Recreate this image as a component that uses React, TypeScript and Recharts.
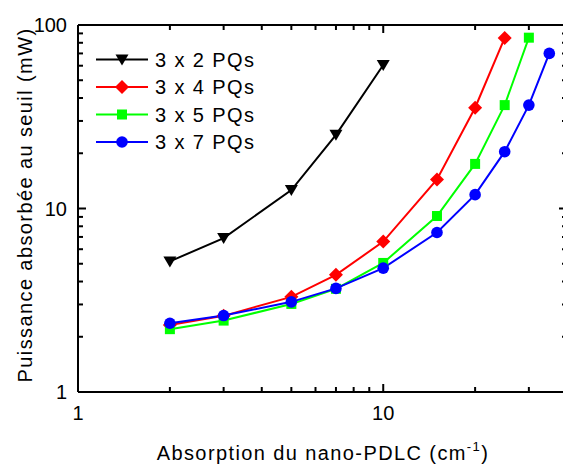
import React from 'react';
import { LineChart, Line, XAxis, YAxis } from 'recharts';

// ---------- data ----------
const seriesNames = ['3 x 2 PQs', '3 x 4 PQs', '3 x 5 PQs', '3 x 7 PQs'];
const seriesColors = ['#000000', '#ff0000', '#00ff00', '#0000ff'];
const seriesMarkers = ['triangleDown', 'diamond', 'square', 'circle'];

const x2PQs = [2, 3, 5, 7, 10];
const y2PQs = [5.15, 6.9, 12.6, 25.2, 60.5];

const x4PQs = [2, 3, 5, 7, 10, 15, 20, 25];
const y4PQs = [2.32, 2.6, 3.3, 4.35, 6.6, 14.4, 35.4, 85];

const x5PQs = [2, 3, 5, 7, 10, 15, 20, 25, 30];
const y5PQs = [2.2, 2.45, 3.02, 3.65, 5.05, 9.1, 17.5, 36.6, 85.3];

const x7PQs = [2, 3, 5, 7, 10, 15, 20, 25, 30, 35];
const y7PQs = [2.37, 2.61, 3.1, 3.67, 4.73, 7.4, 11.9, 20.4, 36.6, 70];

const xDomain = [1, 40];
const yDomain = [1, 100];
const xTicksAll = [1, 2, 3, 4, 5, 6, 7, 8, 9, 10, 20, 30];
const xTicksMajor = [1, 10];
const yTicksAll = [1, 2, 3, 4, 5, 6, 7, 8, 9, 10, 20, 30, 40, 50, 60, 70, 80, 90, 100];
const yTicksMajor = [1, 10, 100];

const xTitle = 'Absorption du nano-PDLC (cm';
const xTitleSup = '-1';
const yTitle = 'Puissance absorbée au seuil (mW)';

const FONT = '"Liberation Sans", Arial, sans-serif';

const toPoints = (xs: number[], ys: number[]) => xs.map((x, i) => ({ x, y: ys[i] }));
const seriesData = [
  toPoints(x2PQs, y2PQs),
  toPoints(x4PQs, y4PQs),
  toPoints(x5PQs, y5PQs),
  toPoints(x7PQs, y7PQs),
];

// ---------- markers ----------
function Marker({ kind, cx, cy, color }: { kind: string; cx: number; cy: number; color: string }) {
  if (cx == null || cy == null || isNaN(cx) || isNaN(cy)) return null;
  if (kind === 'triangleDown') {
    return (
      <polygon
        points={`${cx - 6.5},${cy - 5} ${cx + 6.5},${cy - 5} ${cx},${cy + 6}`}
        fill={color}
      />
    );
  }
  if (kind === 'diamond') {
    return (
      <polygon
        points={`${cx},${cy - 7} ${cx + 7},${cy} ${cx},${cy + 7} ${cx - 7},${cy}`}
        fill={color}
      />
    );
  }
  if (kind === 'square') {
    return <rect x={cx - 5} y={cy - 5} width={10} height={10} fill={color} />;
  }
  return <circle cx={cx} cy={cy} r={5.8} fill={color} />;
}

// ---------- ticks ----------
const MAJOR = 8;
const MINOR = 5;

const BottomTick = (props: any) => {
  const { x, y, payload } = props;
  const v = payload.value;
  const major = xTicksMajor.includes(v);
  return (
    <g>
      <line x1={x} y1={y} x2={x} y2={y - (major ? MAJOR : MINOR)} stroke="#000" strokeWidth={2} />
      {major && (
        <text x={x} y={y + 28} textAnchor="middle" fontSize={20} fontFamily={FONT} fill="#000">
          {v}
        </text>
      )}
    </g>
  );
};

const TopTick = (props: any) => {
  const { x, y, payload } = props;
  const major = xTicksMajor.includes(payload.value);
  return <line x1={x} y1={y} x2={x} y2={y + (major ? MAJOR : MINOR)} stroke="#000" strokeWidth={2} />;
};

const LeftTick = (props: any) => {
  const { x, y, payload } = props;
  const v = payload.value;
  const major = yTicksMajor.includes(v);
  return (
    <g>
      <line x1={x} y1={y} x2={x + (major ? MAJOR : MINOR)} y2={y} stroke="#000" strokeWidth={2} />
      {major && (
        <text x={x - 11} y={y} dy="0.35em" textAnchor="end" fontSize={20} fontFamily={FONT} fill="#000">
          {v}
        </text>
      )}
    </g>
  );
};

const RightTick = (props: any) => {
  const { x, y, payload } = props;
  const major = yTicksMajor.includes(payload.value);
  return <line x1={x} y1={y} x2={x - (major ? MAJOR : MINOR)} y2={y} stroke="#000" strokeWidth={2} />;
};

// ---------- legend ----------
const legendRows = [51.5, 79, 106.5, 134];

function LegendBlock() {
  return (
    <g>
      {seriesNames.map((name, i) => (
        <g key={name}>
          <line x1={88} y1={legendRows[i]} x2={140} y2={legendRows[i]} stroke={seriesColors[i]} strokeWidth={2} />
          <Marker kind={seriesMarkers[i]} cx={114} cy={legendRows[i]} color={seriesColors[i]} />
          <text
            x={147}
            y={legendRows[i]}
            dy="0.35em"
            fontSize={20}
            letterSpacing={1.4}
            fontFamily={FONT}
            fill="#000"
          >
            {name}
          </text>
        </g>
      ))}
    </g>
  );
}

export default function App() {
  return (
    <div
      style={{
        position: 'fixed',
        left: 0,
        top: 0,
        width: 563,
        height: 465,
        overflow: 'hidden',
        background: '#fff',
      }}
    >
      <div style={{ position: 'absolute', left: 8, top: 8 }}>
        <LineChart
          width={570}
          height={457}
          margin={{ top: 16, right: 10, bottom: 72, left: 69 }}
          style={{ fontFamily: FONT }}
        >
          <XAxis
            xAxisId={0}
            type="number"
            dataKey="x"
            scale="log"
            domain={xDomain}
            allowDataOverflow
            ticks={xTicksAll}
            interval={0}
            height={1}
            tickSize={0}
            tickMargin={0}
            tickLine={false}
            axisLine={{ stroke: '#000', strokeWidth: 2 }}
            tick={<BottomTick />}
          />
          <XAxis
            xAxisId="top"
            orientation="top"
            type="number"
            dataKey="x"
            scale="log"
            domain={xDomain}
            allowDataOverflow
            ticks={xTicksAll}
            interval={0}
            height={1}
            tickSize={0}
            tickMargin={0}
            tickLine={false}
            axisLine={{ stroke: '#000', strokeWidth: 2 }}
            tick={<TopTick />}
          />
          <YAxis
            yAxisId={0}
            type="number"
            dataKey="y"
            scale="log"
            domain={yDomain}
            allowDataOverflow
            ticks={yTicksAll}
            interval={0}
            width={1}
            tickSize={0}
            tickMargin={0}
            tickLine={false}
            axisLine={{ stroke: '#000', strokeWidth: 2 }}
            tick={<LeftTick />}
          />
          <YAxis
            yAxisId="right"
            orientation="right"
            type="number"
            dataKey="y"
            scale="log"
            domain={yDomain}
            allowDataOverflow
            ticks={yTicksAll}
            interval={0}
            width={1}
            tickSize={0}
            tickMargin={0}
            tickLine={false}
            axisLine={{ stroke: '#000', strokeWidth: 2 }}
            tick={<RightTick />}
          />
          {seriesData.map((d, i) => (
            <Line
              key={seriesNames[i]}
              name={seriesNames[i]}
              data={d}
              dataKey="y"
              xAxisId={0}
              yAxisId={0}
              type="linear"
              stroke={seriesColors[i]}
              strokeWidth={2}
              isAnimationActive={false}
              activeDot={false}
              dot={(p: any) => (
                <Marker key={`${i}-${p.index}`} kind={seriesMarkers[i]} cx={p.cx} cy={p.cy} color={seriesColors[i]} />
              )}
            />
          ))}
          <LegendBlock />
          <text
            x={315}
            y={452}
            textAnchor="middle"
            fontSize={20}
            letterSpacing={1.4}
            fontFamily={FONT}
            fill="#000"
          >
            {xTitle}
            <tspan dy={-9} fontSize={13}>{xTitleSup}</tspan>
            <tspan dy={9}>)</tspan>
          </text>
          <text
            x={24}
            y={197}
            transform="rotate(-90, 24, 197)"
            textAnchor="middle"
            fontSize={20}
            letterSpacing={1.4}
            fontFamily={FONT}
            fill="#000"
          >
            {yTitle}
          </text>
        </LineChart>
      </div>
    </div>
  );
}
